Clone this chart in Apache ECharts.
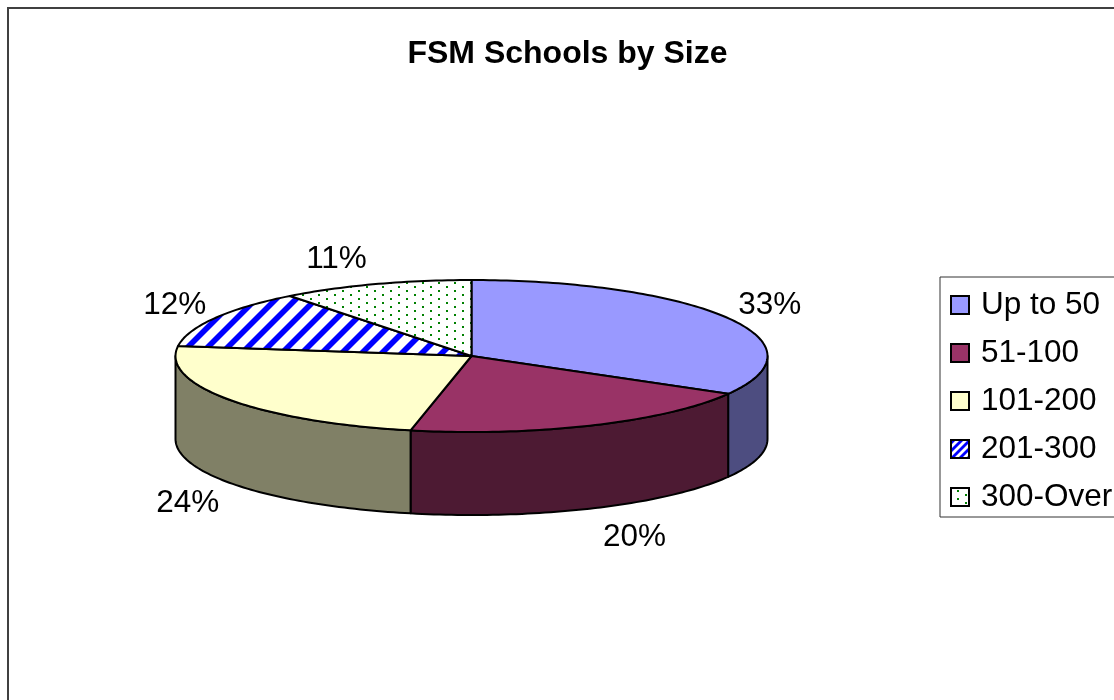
<!DOCTYPE html>
<html><head><meta charset="utf-8">
<style>html,body{margin:0;padding:0;background:#fff}#c{width:1114px;height:700px}</style>
<script src="https://cdn.jsdelivr.net/npm/echarts@6/dist/echarts.min.js"></script>
</head><body><div id="c"></div>
<script>
const categories = ['Up to 50','51-100','101-200','201-300','300-Over'];
const shares = [33.3,20.0,23.8,12.4,10.5];
const topColors = ['#9999FF','#993366','#FFFFCC','#0000FF','#FFFFFF'];
const sideColors = ['#4D4D80','#4D1A33','#808066','#000080','#808080'];

const FONT = '"Liberation Sans", Arial, sans-serif';
const CX = 471.5, CY = 356, RX = 296, RY = 76, DEPTH = 83;

function stripeTile(period, width, phase){
  const c = document.createElement('canvas'); c.width = period; c.height = period;
  const g = c.getContext('2d');
  g.fillStyle = '#fff'; g.fillRect(0,0,period,period);
  g.fillStyle = '#0000FF';
  for (let k = -3*period; k <= 2*period; k += period) {
    g.beginPath();
    g.moveTo(k+phase,period); g.lineTo(k+phase+period,0);
    g.lineTo(k+phase+period+width,0); g.lineTo(k+phase+width,period); g.closePath(); g.fill();
  }
  return c;
}
function dotTile(){
  const c = document.createElement('canvas'); c.width = 16; c.height = 8;
  const g = c.getContext('2d');
  g.fillStyle = '#fff'; g.fillRect(0,0,16,8);
  g.fillStyle = '#008000';
  g.fillRect(14,6,2,2); g.fillRect(6,2,2,2);
  return c;
}
const fills = topColors.slice();
fills[3] = {image: stripeTile(20,8,11), repeat:'repeat'};
fills[4] = {image: dotTile(), repeat:'repeat'};
const legendFills = fills.slice();
legendFills[3] = {image: stripeTile(8,4,1), repeat:'repeat'};

const total = shares.reduce((a,b)=>a+b,0);
const rimPoint = (a,drop) => [CX + RX*Math.sin(a), CY - RY*Math.cos(a) + drop];
function arc(a0,a1,drop){
  const n = Math.max(2,Math.ceil(Math.abs(a1-a0)/0.02)), pts=[];
  for(let i=0;i<=n;i++) pts.push(rimPoint(a0+(a1-a0)*i/n,drop));
  return pts;
}
function makeRender(idx){
  return function(params, api){
    const before = shares.slice(0,idx).reduce((a,b)=>a+b,0);
    const a0 = before/total*2*Math.PI;
    const a1 = a0 + api.value(0)/total*2*Math.PI;
    const children = [];
    const s0 = Math.max(a0,Math.PI/2), s1 = Math.min(a1,Math.PI*3/2);
    if (s1 > s0) {
      children.push({type:'polygon',shape:{points:arc(s0,s1,0).concat(arc(s1,s0,DEPTH))},
        style:{fill:sideColors[idx],stroke:'#000',lineWidth:2,lineJoin:'round'}});
    }
    children.push({type:'polygon',shape:{points:[[CX,CY]].concat(arc(a0,a1,0))},
      style:{fill:fills[idx],stroke:'#000',lineWidth:2,lineJoin:'round'}});
    const mid = (a0+a1)/2, c = Math.cos(mid), s = Math.sin(mid);
    const front = c < 0;
    const p = rimPoint(mid, front ? DEPTH : 0);
    children.push({type:'text',style:{
      x:p[0]+(s>0?42:-41+2*c), y:p[1]+(front?7.5+23*Math.abs(c):-26*c),
      text:Math.round(api.value(0))+'%',font:'31.5px '+FONT,fill:'#000',align:'center',verticalAlign:'middle'}});
    return {type:'group',children};
  };
}
const chart = echarts.init(document.getElementById('c'),null,{renderer:'canvas'});
chart.setOption({
  animation:false,
  backgroundColor:'#fff',
  title:{text:'FSM Schools by Size',left:562.5,top:33,textAlign:'center',
    textStyle:{fontFamily:FONT,fontSize:32,fontWeight:'bold',color:'#000'}},
  legend:{
    left:940,top:277,orient:'vertical',icon:'rect',itemWidth:18,itemHeight:18,itemGap:16,
    padding:[12,10,4,10],borderColor:'#333',borderWidth:1,backgroundColor:'#fff',
    textStyle:{fontFamily:FONT,fontSize:31.5,lineHeight:26,color:'#000',padding:[6,0,0,7]},
    data:categories.map((n,i)=>({name:n,icon:'rect',
      itemStyle:{color:legendFills[i],borderColor:'#000',borderWidth:2}}))
  },
  graphic:[{type:'rect',silent:true,z:-1,shape:{x:8,y:8,width:1300,height:900},
    style:{fill:'none',stroke:'#404040',lineWidth:2}}],
  series:categories.map((n,i)=>({
    type:'custom',name:n,coordinateSystem:'none',silent:true,
    itemStyle:{color:topColors[i]},
    renderItem:makeRender(i),data:[[shares[i]]],z:2+i
  }))
});
</script></body></html>
